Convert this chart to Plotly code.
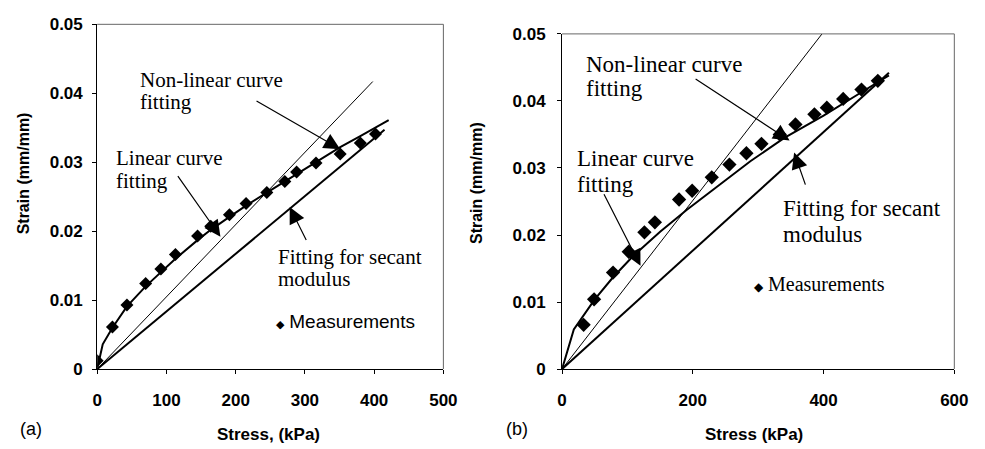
import plotly.graph_objects as go

# ---------------- data ----------------
# Panel (a)
a_meas_stress = [0, 22, 43, 70, 92, 113, 145, 164, 191, 215, 245, 271, 288, 316, 351, 380, 402]
a_meas_strain = [0.0012, 0.0061, 0.0093, 0.0124, 0.0145, 0.0166, 0.0193, 0.0207, 0.0224, 0.0240,
                 0.0256, 0.0272, 0.0286, 0.0299, 0.0312, 0.0328, 0.0341]
a_nonlin_stress = [0, 8, 22, 43, 70, 92, 113, 145, 164, 190, 215, 245, 271, 300, 330, 351, 380, 421]
a_nonlin_strain = [0, 0.0036, 0.0060, 0.0091, 0.0120, 0.0141, 0.0160, 0.0187, 0.0202, 0.0220,
                   0.0237, 0.0256, 0.0272, 0.0290, 0.0309, 0.0322, 0.0338, 0.0361]
a_linear_stress = [0, 398]
a_linear_strain = [0, 0.0417]
a_secant_stress = [0, 415]
a_secant_strain = [0, 0.0347]

# Panel (b)
b_meas_stress = [33, 49, 78, 102, 126, 142, 179, 199, 229, 256, 282, 305, 333, 357, 386, 405, 430, 458, 483]
b_meas_strain = [0.0066, 0.0104, 0.0144, 0.0175, 0.0204, 0.0219, 0.0253, 0.0266, 0.0286, 0.0305,
                 0.0322, 0.0336, 0.0350, 0.0365, 0.0380, 0.0390, 0.0403, 0.0417, 0.0430]
b_nonlin_stress = [0, 18, 50, 78, 108, 150, 190, 240, 288, 340, 400, 453, 500]
b_nonlin_strain = [0, 0.0059, 0.0104, 0.0137, 0.0168, 0.0205, 0.0237, 0.0274, 0.0310, 0.0345,
                   0.0378, 0.0410, 0.0438]
b_linear_stress = [0, 400]
b_linear_strain = [0, 0.0503]
b_secant_stress = [0, 500]
b_secant_strain = [0, 0.0442]

a_xticks = [0, 100, 200, 300, 400, 500]
b_xticks = [0, 200, 400, 600]
y_ticks = [0, 0.01, 0.02, 0.03, 0.04, 0.05]

# ---------------- figure ----------------
W, H = 985, 449
def px(x):
    return x / W
def py(y):
    return 1 - y / H

SANS = "Liberation Sans, Arial, sans-serif"
SERIF = "Liberation Serif, Times New Roman, serif"

fig = go.Figure()

def add_panel(xa, ya, ms, me, ns, ne, ls, le, ss, se, msize):
    fig.add_trace(go.Scatter(x=ls, y=le, mode="lines", line=dict(color="black", width=1),
                             xaxis=xa, yaxis=ya, showlegend=False))
    fig.add_trace(go.Scatter(x=ss, y=se, mode="lines", line=dict(color="black", width=2),
                             xaxis=xa, yaxis=ya, showlegend=False))
    fig.add_trace(go.Scatter(x=ns, y=ne, mode="lines", line=dict(color="black", width=2),
                             xaxis=xa, yaxis=ya, showlegend=False))
    fig.add_trace(go.Scatter(x=ms, y=me, mode="markers",
                             marker=dict(symbol="diamond", size=msize, color="black"),
                             xaxis=xa, yaxis=ya, showlegend=False, name="Measurements"))

add_panel("x", "y", a_meas_stress, a_meas_strain, a_nonlin_stress, a_nonlin_strain,
          a_linear_stress, a_linear_strain, a_secant_stress, a_secant_strain, 10)
add_panel("x2", "y2", b_meas_stress, b_meas_strain, b_nonlin_stress, b_nonlin_strain,
          b_linear_stress, b_linear_strain, b_secant_stress, b_secant_strain, 11)

tickfont = dict(family=SANS, size=17, color="black", weight="bold")
axis_common = dict(showgrid=False, zeroline=False, showline=True, linecolor="black", linewidth=1,
                   ticks="outside", ticklen=4, tickcolor="black", tickfont=tickfont)

fig.update_layout(
    width=W, height=H,
    margin=dict(l=0, r=0, t=0, b=0),
    paper_bgcolor="white", plot_bgcolor="white",
    showlegend=False,
    xaxis=dict(domain=[px(94), px(447)], range=[0, 500], tickvals=a_xticks,
               anchor="y", ticklabelstandoff=12, **axis_common),
    yaxis=dict(domain=[py(376), py(16)], range=[0, 0.05], tickvals=y_ticks,
               anchor="x", ticklabelstandoff=6, **axis_common),
    xaxis2=dict(domain=[px(568), px(968)], range=[0, 600], tickvals=b_xticks,
                anchor="y2", ticklabelstandoff=12, **axis_common),
    yaxis2=dict(domain=[py(376), py(26)], range=[0, 0.05], tickvals=y_ticks,
                anchor="x2", ticklabelstandoff=8, **axis_common),
)

# top / right frame lines (grey, as in the scan)
for (x0, x1, y0, y1) in [(94, 447, 16, 376), (568, 968, 26, 376)]:
    fig.add_shape(type="line", xref="paper", yref="paper", x0=px(x0), x1=px(x1), y0=py(y0), y1=py(y0),
                  line=dict(color="#666666", width=1))
    fig.add_shape(type="line", xref="paper", yref="paper", x0=px(x1), x1=px(x1), y0=py(y0), y1=py(y1),
                  line=dict(color="#666666", width=1))

def label(text, x, y, font, xanchor="left", angle=0):
    fig.add_annotation(text=text, xref="paper", yref="paper", x=px(x), y=py(y),
                       xanchor=xanchor, yanchor="middle", showarrow=False, font=font,
                       textangle=angle)

fa = dict(family=SERIF, size=21, color="black")
fb = dict(family=SERIF, size=23, color="black")

# panel (a) labels
label("Non-linear curve", 136, 74, fa)
label("fitting", 136, 97, fa)
label("Linear curve", 111, 156, fa)
label("fitting", 111, 180, fa)
label("Fitting for secant", 276, 259, fa)
label("modulus", 276, 282, fa)
label("<span style='font-size:11px'>◆</span> Measurements", 274, 326,
      dict(family=SANS, size=19, color="black"))

# panel (b) labels
label("Non-linear curve", 590, 58, fb)
label("fitting", 590, 83, fb)
label("Linear curve", 581, 156, fb)
label("fitting", 581, 183, fb)
label("Fitting for secant", 791, 208, fb)
label("modulus", 791, 235, fb)
label("<span style='font-size:12px'>◆</span> Measurements", 762, 287,
      dict(family=SERIF, size=20, color="black"))

# axis titles and panel tags
tfont = dict(family=SANS, size=17, color="black", weight="bold")
label("Stress, (kPa)", 269, 444, tfont, xanchor="center")
label("Stress (kPa)", 764, 444, tfont, xanchor="center")
yfont = dict(family=SANS, size=16, color="black", weight="bold")
label("Strain (mm/mm)", 19, 172, yfont, xanchor="center", angle=-90)
label("Strain (mm/mm)", 481, 182, yfont, xanchor="center", angle=-90)
label("(a)", 27, 439, dict(family=SANS, size=18, color="black"), xanchor="center")
label("(b)", 522, 439, dict(family=SANS, size=18, color="black"), xanchor="center")

# arrows (tail -> tip, in data coordinates)
def arrow(xr, yr, tail, tip):
    fig.add_annotation(xref=xr, yref=yr, axref=xr, ayref=yr, x=tip[0], y=tip[1],
                       ax=tail[0], ay=tail[1], text="", showarrow=True,
                       arrowhead=2, arrowsize=2.7, arrowwidth=1.2, arrowcolor="black")

arrow("x", "y", (228, 0.0390), (351, 0.0319))
arrow("x", "y", (115, 0.0282), (178, 0.0192))
arrow("x", "y", (303, 0.0185), (278, 0.0235))
arrow("x2", "y2", (202, 0.0434), (348, 0.0341))
arrow("x2", "y2", (63, 0.0263), (120, 0.0154))
arrow("x2", "y2", (373, 0.0273), (355, 0.0323))

fig.write_html("out.html")
